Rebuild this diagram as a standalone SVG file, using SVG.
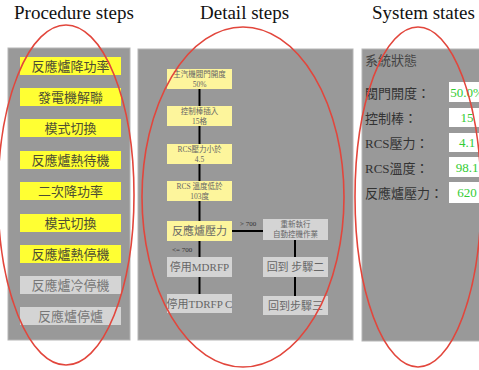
<svg xmlns="http://www.w3.org/2000/svg" width="479" height="370" viewBox="0 0 479 370">
<style>
.title{font-family:"Liberation Serif","Noto Sans CJK TC",serif;font-size:19px;fill:#111}
.panel{fill:#999;stroke:#b5b5b5;stroke-width:1}
.yb{fill:#ffff33}
.gb{fill:#d4d4d4}
.pb{fill:#fdf59c}
.lt{font-family:"Liberation Serif","Noto Sans CJK TC",serif;font-size:13px;fill:#4d4d33;text-anchor:middle}
.gt{font-family:"Liberation Serif","Noto Sans CJK TC",serif;font-size:13px;fill:#777;text-anchor:middle}
.st{font-family:"Liberation Serif","Noto Sans CJK TC",serif;font-size:7.5px;fill:#666;text-anchor:middle}
.mt{font-family:"Liberation Serif","Noto Sans CJK TC",serif;font-size:11px;fill:#666;text-anchor:middle}
.cl{font-family:"Liberation Serif",serif;font-size:7px;fill:#333}
.sl{font-family:"Liberation Serif","Noto Sans CJK TC",serif;font-size:13px;fill:#333}
.vb{fill:#fff}
.vt{font-family:"Liberation Serif",serif;font-size:13px;fill:#3c3;text-anchor:middle}
.ln{stroke:#000;stroke-width:2;fill:none}
.ov{fill:none;stroke:#e2463c;stroke-width:1.6}
</style>
<rect width="479" height="370" fill="#fff"/>
<text class="title" x="14" y="19">Procedure steps</text>
<text class="title" x="200" y="19">Detail steps</text>
<text class="title" x="372" y="19">System states</text>

<g id="panel-procedure">
<rect class="panel" x="8" y="48" width="122" height="292"/>
</g>
<g id="panel-detail">
<rect class="panel" x="138" y="49" width="215" height="291"/>
</g>
<g id="panel-system">
<rect class="panel" x="362" y="49" width="122" height="292"/>
</g>

<g id="p1"><rect class="yb" x="20" y="57" width="101" height="18"/><text class="lt" x="70.5" y="71">反應爐降功率</text></g>
<g id="p2"><rect class="yb" x="20" y="88" width="101" height="18"/><text class="lt" x="70.5" y="102">發電機解聯</text></g>
<g id="p3"><rect class="yb" x="20" y="119" width="101" height="18"/><text class="lt" x="70.5" y="133">模式切換</text></g>
<g id="p4"><rect class="yb" x="20" y="151" width="101" height="18"/><text class="lt" x="70.5" y="165">反應爐熱待機</text></g>
<g id="p5"><rect class="yb" x="20" y="182" width="101" height="18"/><text class="lt" x="70.5" y="196">二次降功率</text></g>
<g id="p6"><rect class="yb" x="20" y="214" width="101" height="18"/><text class="lt" x="70.5" y="228">模式切換</text></g>
<g id="p7"><rect class="yb" x="20" y="245" width="101" height="18"/><text class="lt" x="70.5" y="259">反應爐熱停機</text></g>
<g id="p8"><rect class="gb" x="20" y="276" width="101" height="18"/><text class="gt" x="70.5" y="290">反應爐冷停機</text></g>
<g id="p9"><rect class="gb" x="20" y="307" width="101" height="18"/><text class="gt" x="70.5" y="321">反應爐停爐</text></g>

<g id="connectors">
<line class="ln" x1="199.5" y1="89" x2="199.5" y2="221"/>
<line class="ln" x1="199.5" y1="241" x2="199.5" y2="257"/>
<line class="ln" x1="199.5" y1="277" x2="199.5" y2="294"/>
<line class="ln" x1="232" y1="231" x2="263" y2="231"/>
<line class="ln" x1="295" y1="240" x2="295" y2="257"/>
<line class="ln" x1="295" y1="277" x2="295" y2="296"/>
<text class="cl" x="240" y="226">&gt; 700</text>
<text class="cl" x="172" y="252">&lt;= 700</text>
</g>

<g id="d1"><rect class="pb" x="167" y="69" width="65" height="20"/><text class="st" x="199.5" y="77">主汽機閥門開度</text><text class="st" x="199.5" y="87">50%</text></g>
<g id="d2"><rect class="pb" x="167" y="106" width="65" height="20"/><text class="st" x="199.5" y="114">控制棒插入</text><text class="st" x="199.5" y="124">15格</text></g>
<g id="d3"><rect class="pb" x="167" y="144" width="65" height="20"/><text class="st" x="199.5" y="152">RCS壓力小於</text><text class="st" x="199.5" y="162">4.5</text></g>
<g id="d4"><rect class="pb" x="167" y="181" width="65" height="20"/><text class="st" x="199.5" y="189">RCS 溫度低於</text><text class="st" x="199.5" y="199">103度</text></g>
<g id="d5"><rect class="pb" x="167" y="221" width="65" height="20"/><text class="mt" x="199.5" y="235">反應爐壓力</text></g>
<g id="d6"><rect class="gb" x="167" y="257" width="65" height="20"/><text class="mt" x="199.5" y="271">停用MDRFP</text></g>
<g id="d7"><rect class="gb" x="167" y="294" width="65" height="19"/><text class="mt" x="199.5" y="308">停用TDRFP C</text></g>
<g id="d8"><rect class="gb" x="263" y="219" width="65" height="21"/><text class="st" x="295.5" y="227">重新執行</text><text class="st" x="295.5" y="237">自動控機作業</text></g>
<g id="d9"><rect class="gb" x="263" y="257" width="65" height="20"/><text class="mt" x="295.5" y="271">回到 步驟二</text></g>
<g id="d10"><rect class="gb" x="263" y="296" width="65" height="19"/><text class="mt" x="295.5" y="310">回到步驟三</text></g>

<g id="s0"><text class="sl" x="365" y="65" style="fill:#444">系統狀態</text></g>
<g id="s1"><text class="sl" x="365" y="98">閥門開度：</text><rect class="vb" x="449" y="82" width="36" height="20"/><text class="vt" x="467" y="97">50.0%</text></g>
<g id="s2"><text class="sl" x="365" y="123">控制棒：</text><rect class="vb" x="449" y="108" width="36" height="19"/><text class="vt" x="467" y="122">15</text></g>
<g id="s3"><text class="sl" x="365" y="148">RCS壓力：</text><rect class="vb" x="449" y="133" width="36" height="19"/><text class="vt" x="467" y="147">4.1</text></g>
<g id="s4"><text class="sl" x="365" y="173">RCS溫度：</text><rect class="vb" x="449" y="157" width="36" height="20"/><text class="vt" x="467" y="172">98.1</text></g>
<g id="s5"><text class="sl" x="365" y="198">反應爐壓力：</text><rect class="vb" x="449" y="182" width="36" height="21"/><text class="vt" x="467" y="197">620</text></g>

<g id="highlights">
<ellipse class="ov" cx="66" cy="195" rx="68" ry="170"/>
<ellipse class="ov" cx="243" cy="197" rx="101" ry="170"/>
<ellipse class="ov" cx="418" cy="197" rx="63" ry="170"/>
</g>
</svg>
